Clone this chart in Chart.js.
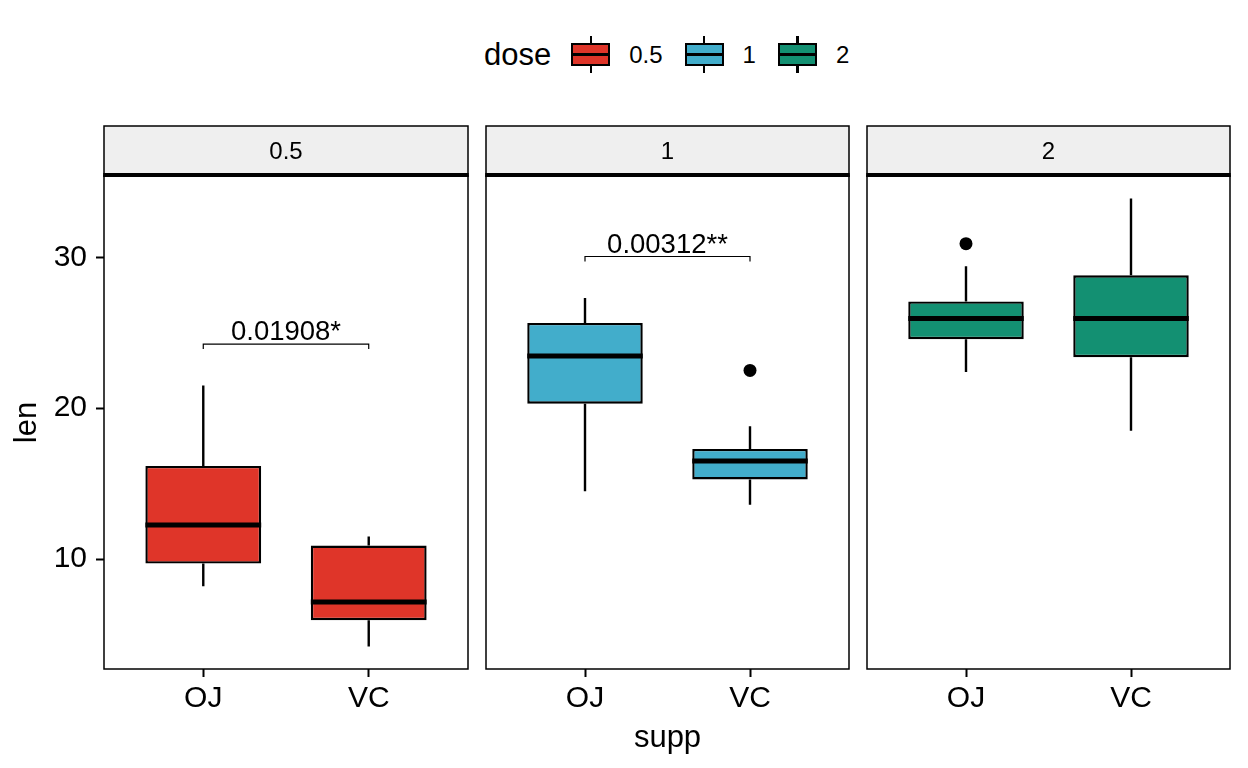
<!DOCTYPE html>
<html>
<head>
<meta charset="utf-8">
<script src="https://cdn.jsdelivr.net/npm/chart.js@4.4.1/dist/chart.umd.min.js"></script>
<style>
  html, body { margin: 0; padding: 0; background: #fff; }
  body { width: 1248px; height: 768px; position: relative; overflow: hidden;
         font-family: "Liberation Sans", Arial, sans-serif; color: #000; }
  canvas.panel { position: absolute; left: 0; top: 0; }
  #legend { position: absolute; left: 484px; top: 36px; height: 37px;
            display: flex; align-items: center; }
  #legend .title { font-size: 31px; margin-right: 20px; }
  #legend .keyw { position: relative; width: 39px; height: 37px; margin-right: 19px; }
  #legend .whisker { position: absolute; left: 18.3px; width: 2.4px; top: 0; bottom: 0; background: #000; }
  #legend .key { position: absolute; left: 0; top: 7px; width: 39px; height: 23px; box-sizing: border-box;
                 border: 2.4px solid #000; }
  #legend .key::before { content: ""; position: absolute; left: 0; right: 0; top: 50%;
                         height: 3px; margin-top: -1.5px; background: #000; }
  #legend .lab { font-size: 24px; margin-right: 22px; }
</style>
</head>
<body>
<div id="legend"></div>
<canvas id="c0" class="panel" width="1248" height="768"></canvas>
<canvas id="c1" class="panel" width="1248" height="768"></canvas>
<canvas id="c2" class="panel" width="1248" height="768"></canvas>
<script>
// ToothGrowth, len by supp, one panel per dose
const doses = ["0.5", "1", "2"];
const supp = ["OJ", "VC"];
const fills = ["#DF3529", "#42ADCB", "#139072"];

// each row is one dose: [OJ, VC]
const lowWhisker = [[8.2, 4.2], [14.5, 13.6], [22.4, 18.5]];
const q1 = [[9.7, 5.95], [20.3, 15.275], [24.575, 23.375]];
const medians = [[12.25, 7.15], [23.45, 16.5], [25.95, 25.95]];
const q3 = [[16.175, 10.9], [25.65, 17.3], [27.075, 28.8]];
const highWhisker = [[21.5, 11.5], [27.3, 18.8], [29.4, 33.9]];
const outliers = [[[], []], [[], [22.5]], [[30.9], []]];

const pLabels = ["0.01908*", "0.00312**", null];
const bracketY = [24.25, 30.05, null];
const yTicks = [10, 20, 30];

const FONT = "'Liberation Sans', Arial, sans-serif";
const panelLeft = [104, 486, 867];
const panelRight = [468, 849, 1230];
const BOX_W = 0.7;

// legend
const legend = document.getElementById("legend");
legend.innerHTML = '<span class="title">dose</span>' + doses.map((d, i) =>
  '<span class="keyw"><span class="whisker"></span><span class="key" style="background:' + fills[i] +
  '"></span></span><span class="lab">' + d + '</span>').join("");

const boxExtras = {
  id: "boxExtras",
  afterDatasetsDraw(chart, args, opts) {
    const { ctx, scales: { x, y } } = chart;
    const d = opts.dose;
    ctx.save();
    ctx.strokeStyle = "#000";
    supp.forEach((s, i) => {
      const px = x.getPixelForValue(i + 1);
      ctx.lineWidth = 2.4;
      ctx.beginPath();
      ctx.moveTo(px, y.getPixelForValue(highWhisker[d][i]));
      ctx.lineTo(px, y.getPixelForValue(q3[d][i]));
      ctx.moveTo(px, y.getPixelForValue(q1[d][i]));
      ctx.lineTo(px, y.getPixelForValue(lowWhisker[d][i]));
      ctx.stroke();
      ctx.lineWidth = 5;
      const my = y.getPixelForValue(medians[d][i]);
      ctx.beginPath();
      ctx.moveTo(x.getPixelForValue(i + 1 - BOX_W / 2), my);
      ctx.lineTo(x.getPixelForValue(i + 1 + BOX_W / 2), my);
      ctx.stroke();
    });
    // comparison bracket
    if (pLabels[d]) {
      const by = y.getPixelForValue(bracketY[d]);
      const x1 = x.getPixelForValue(1), x2 = x.getPixelForValue(2);
      ctx.lineWidth = 1.2;
      ctx.beginPath();
      ctx.moveTo(x1, by + 5); ctx.lineTo(x1, by); ctx.lineTo(x2, by); ctx.lineTo(x2, by + 5);
      ctx.stroke();
      ctx.fillStyle = "#000";
      ctx.font = "27.5px " + FONT;
      ctx.textAlign = "center";
      ctx.textBaseline = "alphabetic";
      ctx.fillText(pLabels[d], (x1 + x2) / 2, by - 4);
    }
    ctx.restore();
  },
  afterDraw(chart, args, opts) {
    const { ctx, chartArea: a } = chart;
    ctx.save();
    // strip
    ctx.fillStyle = "#EFEFEF";
    ctx.fillRect(a.left, 126, a.right - a.left, a.top - 126);
    ctx.strokeStyle = "#000";
    ctx.lineWidth = 1.5;
    ctx.strokeRect(a.left, 126, a.right - a.left, a.top - 126);
    ctx.fillStyle = "#000";
    ctx.font = "24px " + FONT;
    ctx.textAlign = "center";
    ctx.textBaseline = "middle";
    ctx.fillText(doses[opts.dose], (a.left + a.right) / 2, 152);
    // panel border
    ctx.strokeRect(a.left, a.top, a.right - a.left, a.bottom - a.top);
    ctx.lineWidth = 4;
    ctx.beginPath();
    ctx.moveTo(a.left - 0.75, 175);
    ctx.lineTo(a.right + 0.75, 175);
    ctx.stroke();
    ctx.restore();
  }
};

doses.forEach((dose, d) => {
  const padLeft = d === 0 ? 9 : panelLeft[d];
  new Chart(document.getElementById("c" + d), {
    type: "bar",
    data: {
      datasets: [
        {
          type: "scatter",
          data: supp.flatMap((s, i) => outliers[d][i].map(v => ({ x: i + 1, y: v }))),
          pointRadius: 6.5,
          pointBackgroundColor: "#000",
          pointBorderWidth: 0,
          order: 0
        },
        {
          label: dose,
          data: supp.map((s, i) => ({ x: i + 1, y: [q1[d][i], q3[d][i]] })),
          backgroundColor: fills[d],
          borderColor: "#000",
          borderWidth: 2.4,
          borderSkipped: false,
          categoryPercentage: 1,
          barPercentage: BOX_W,
          order: 1
        }
      ]
    },
    options: {
      responsive: false,
      animation: false,
      layout: { padding: { left: padLeft, right: 1248 - panelRight[d], top: 176, bottom: 11 } },
      plugins: {
        legend: { display: false },
        tooltip: { enabled: false },
        boxExtras: { dose: d }
      },
      scales: {
        x: {
          type: "linear",
          offset: false,
          min: 0.4,
          max: 2.6,
          afterBuildTicks: s => { s.ticks = supp.map((v, i) => ({ value: i + 1 })); },
          afterFit: s => { s.height = 88; },
          ticks: {
            callback: (v, i) => supp[i],
            font: { family: FONT, size: 30 },
            color: "#000",
            padding: 4,
            maxRotation: 0,
            autoSkip: false
          },
          grid: { display: true, offset: false, drawOnChartArea: false, drawTicks: true, tickLength: 8, tickWidth: 2, tickColor: "#000" },
          border: { display: false },
          title: { display: d === 1, text: "supp", font: { family: FONT, size: 31 }, color: "#000", padding: 0 }
        },
        y: {
          type: "linear",
          display: d === 0,
          min: 2.715,
          max: 35.385,
          afterBuildTicks: s => { s.ticks = yTicks.map(v => ({ value: v })); },
          afterFit: s => { s.width = d === 0 ? 95 : 0; },
          ticks: { font: { family: FONT, size: 30 }, color: "#000", padding: 9 },
          grid: { display: true, drawOnChartArea: false, drawTicks: true, tickLength: 8, tickWidth: 2, tickColor: "#000" },
          border: { display: false },
          title: { display: true, text: "len", font: { family: FONT, size: 31 }, color: "#000", padding: 0 }
        }
      }
    },
    plugins: [boxExtras]
  });
});
</script>
</body>
</html>
